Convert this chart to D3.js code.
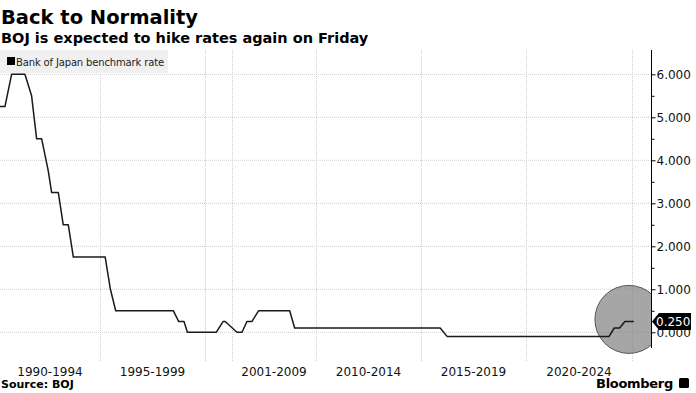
<!DOCTYPE html>
<html>
<head>
<meta charset="utf-8">
<script src="https://cdn.jsdelivr.net/npm/d3@7"></script>
<style>
  body { margin: 0; background: #fff; }
  text { font-family: "DejaVu Sans", Verdana, sans-serif; }
</style>
</head>
<body>
<script>

let width = 696;
let height = 393;

// rate, [month, percent]
let rateDates = ["1990-01", "1990-04", "1990-08", "1991-04", "1991-08", "1991-11", "1992-02",
	"1992-06", "1992-08", "1992-12", "1993-03", "1993-06", "1993-09", "1995-04", "1995-07",
	"1995-10", "1998-07", "1998-10", "1999-01", "1999-03", "2000-06", "2000-09", "2000-10",
	"2001-04", "2001-07", "2006-07", "2006-10", "2007-02", "2008-09", "2008-12", "2015-12",
	"2016-04", "2023-12", "2024-03", "2024-06", "2024-09", "2025-02"];
let rateValues = [5.25, 5.25, 6.0, 6.0, 5.5, 4.5, 4.5,
	3.75, 3.25, 3.25, 2.5, 2.5, 1.75, 1.75, 1.0,
	0.5, 0.5, 0.25, 0.25, 0.0, 0.0, 0.25, 0.25,
	0.0, 0.0, 0.25, 0.25, 0.5, 0.5, 0.1, 0.1,
	-0.1, -0.1, 0.1, 0.1, 0.25, 0.25];

let periodLabels = ["1990-1994", "1995-1999", "2001-2009", "2010-2014", "2015-2019", "2020-2024"];
let periodStarts = ["1990-01", "1995-01", "2001-01", "2010-01", "2015-01", "2020-01"];
let periodEnds = ["1995-01", "2000-01", "2010-01", "2015-01", "2020-01", "2025-01"];
let gridDates = ["1995-01", "2000-01", "2001-01", "2010-01", "2015-01", "2020-01", "2025-01"];

let yTicks = [0, 1, 2, 3, 4, 5, 6];
let yMinorTicks = [0.5, 1.5, 2.5, 3.5, 4.5, 5.5];
let lastValue = 0.25;

let parse = d3.timeParse("%Y-%m");
let data = rateDates.map((d, i) => ({ date: parse(d), rate: rateValues[i] }));

let axisX = 651;
let plotTop = 50;

// the chart's time axis is uneven (2001-2006 squeezed), so piecewise
let xScale = d3.scaleTime()
	.domain(["1990-01", "1995-01", "2000-01", "2001-01", "2001-07", "2006-04",
		"2010-01", "2015-01", "2020-01", "2025-01"].map(parse))
	.range([0, 100, 205, 232, 242, 242, 316, 421, 526, 632]);

let yScale = d3.scaleLinear()
	.domain([0, 6])
	.range([332.3, 74.3]);

let svg = d3.select("body")
	.append("svg")
		.attr("width", width)
		.attr("height", height);

// titles
svg.append("text")
	.attr("x", 1).attr("y", 24)
	.style("font-size", "19.5px").style("font-weight", "bold").style("fill", "#000")
	.text("Back to Normality");
svg.append("text")
	.attr("x", 1).attr("y", 43)
	.style("font-size", "14.5px").style("font-weight", "bold").style("fill", "#000")
	.text("BOJ is expected to hike rates again on Friday");

// horizontal grid
svg.append("g")
	.selectAll("line")
	.data(yTicks)
	.enter().append("line")
		.attr("x1", 0).attr("x2", axisX)
		.attr("y1", d => yScale(d)).attr("y2", d => yScale(d))
		.style("stroke", "#cfcfcf")
		.style("stroke-dasharray", "1,1");

// vertical grid
svg.append("g")
	.selectAll("line")
	.data(gridDates)
	.enter().append("line")
		.attr("x1", d => Math.round(xScale(parse(d))) + 0.5)
		.attr("x2", d => Math.round(xScale(parse(d))) + 0.5)
		.attr("y1", plotTop).attr("y2", 362)
		.style("stroke", "#cfcfcf")
		.style("stroke-dasharray", "1,1");

// legend
svg.append("rect")
	.attr("x", 0).attr("y", 50).attr("width", 168).attr("height", 23)
	.style("fill", "#f0f0f0");
svg.append("rect")
	.attr("x", 7).attr("y", 57).attr("width", 8).attr("height", 8)
	.style("fill", "#000");
svg.append("text")
	.attr("x", 16).attr("y", 65.5)
	.style("font-size", "10px").style("fill", "#222")
	.style("letter-spacing", "-0.15px")
	.text("Bank of Japan benchmark rate");

// highlight circle, clipped at the axis
svg.append("clipPath").attr("id", "plotclip")
	.append("rect").attr("x", 0).attr("y", 0).attr("width", axisX).attr("height", height);

svg.append("circle")
	.attr("clip-path", "url(#plotclip)")
	.attr("cx", xScale(parse("2024-09")) + 4)
	.attr("cy", yScale(0.3))
	.attr("r", 34)
	.style("fill", "#777")
	.style("fill-opacity", 0.65)
	.style("stroke", "#555")
	.style("stroke-width", 1);

let valueline = d3.line()
	.x(d => xScale(d.date))
	.y(d => yScale(d.rate));

svg.append("path")
	.datum(data)
	.attr("d", valueline)
	.style("fill", "none")
	.style("stroke", "#1a1a1a")
	.style("stroke-width", "1.5px")
	.style("stroke-linejoin", "round");

// y axis on the right
svg.append("line")
	.attr("x1", axisX + 0.5).attr("x2", axisX + 0.5)
	.attr("y1", plotTop).attr("y2", 348)
	.style("stroke", "#000");

let yAxis = d3.axisRight(yScale)
	.tickValues(yTicks)
	.tickFormat(d3.format(".3f"))
	.tickSize(4)
	.tickPadding(1);

let gy = svg.append("g")
	.attr("transform", "translate(" + (axisX + 0.5) + ",0)")
	.call(yAxis);
gy.select(".domain").remove();
gy.selectAll("text")
	.style("font-family", "'DejaVu Sans', Verdana, sans-serif")
	.style("font-size", "12px")
	.style("fill", "#111");
gy.selectAll("line").style("stroke", "#000");

let minorAxis = d3.axisRight(yScale)
	.tickValues(yMinorTicks)
	.tickFormat("")
	.tickSize(3);
let gm = svg.append("g")
	.attr("transform", "translate(" + (axisX + 0.5) + ",0)")
	.call(minorAxis);
gm.select(".domain").remove();
gm.selectAll("line").style("stroke", "#000");

// last value tag (covers the top of the 0.000 label, as in the original)
let ly = yScale(lastValue);
svg.append("path")
	.attr("d", "M" + (axisX + 1) + "," + ly +
		"L" + (axisX + 8) + "," + (ly - 8.5) +
		"L" + 691 + "," + (ly - 8.5) +
		"L" + 691 + "," + (ly + 8.5) +
		"L" + (axisX + 8) + "," + (ly + 8.5) + "Z")
	.style("fill", "#000");
svg.append("text")
	.attr("x", 656).attr("y", ly + 4.5)
	.style("font-size", "12px").style("fill", "#fff")
	.text(d3.format(".3f")(lastValue));

// period labels
svg.append("g")
	.selectAll("text")
	.data(periodLabels)
	.enter().append("text")
		.attr("x", (d, i) => (xScale(parse(periodStarts[i])) + xScale(parse(periodEnds[i]))) / 2)
		.attr("y", 375.5)
		.attr("text-anchor", "middle")
		.style("font-size", "12px")
		.style("fill", "#111")
		.text(d => d);

// footer
svg.append("text")
	.attr("x", 1).attr("y", 388)
	.style("font-size", "11px").style("font-weight", "bold").style("fill", "#000")
	.text("Source: BOJ");
svg.append("text")
	.attr("x", 673).attr("y", 388)
	.attr("text-anchor", "end")
	.style("font-size", "13px").style("font-weight", "bold").style("fill", "#000")
	.style("letter-spacing", "-0.3px")
	.text("Bloomberg");
svg.append("rect")
	.attr("x", 679).attr("y", 378).attr("width", 10).attr("height", 10).attr("rx", 1.5)
	.style("fill", "#000");

</script>
</body>
</html>
